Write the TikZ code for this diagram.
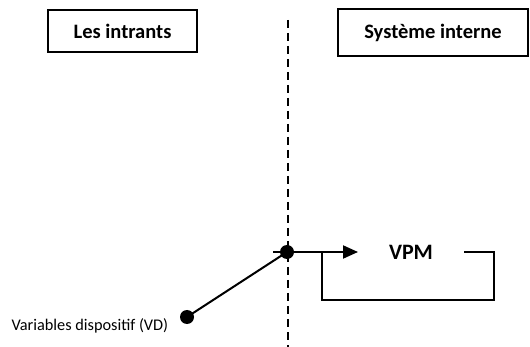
\documentclass[tikz,border=0pt]{standalone}
\usepackage{fontspec}
\setmainfont{Carlito}
\usetikzlibrary{arrows.meta}
\begin{document}
\begin{tikzpicture}[x=1pt,y=-1pt,
  titlebox/.style={draw,line width=1.3pt,font=\fontsize{20.5}{22}\selectfont\bfseries},
  conn/.style={line width=2pt},
  dotnode/.style={circle,fill=black,inner sep=0pt,minimum size=14pt},
  sep/.style={line width=1.3pt,dash pattern=on 8pt off 5pt}]
\useasboundingbox (0,0) rectangle (530,347);
\node[titlebox,minimum width=149pt,minimum height=42pt] (intr) at (122.5,31) {Les intrants};
\node[titlebox,minimum width=190pt,minimum height=47pt] (sys) at (433,32.5) {Système interne};
\coordinate (stop) at (288,20);
\coordinate (sbot) at (288,347);
\draw[sep] (stop) -- (sbot);
\node[dotnode] (d1) at (287,252) {};
\node[dotnode] (d2) at (187,317) {};
\node[anchor=west,font=\fontsize{16.3}{18}\selectfont] (vd) at (8,326) {Variables dispositif (VD)};
\node[font=\fontsize{22}{24}\selectfont\bfseries] (vpm) at (411,252) {VPM};
\coordinate (l0) at (273,252);
\coordinate (a1) at (358,252);
\coordinate (r0) at (464,252);
\coordinate (r1) at (494,252);
\coordinate (r2) at (494,300);
\coordinate (r3) at (322,300);
\coordinate (r4) at (322,252);
\draw[conn] (d2.center) -- (d1.center);
\draw[conn,-{Triangle[length=15pt,width=13pt]}] (l0) -- (a1);
\draw[line width=1.3pt] (r0) -- (r1) -- (r2) -- (r3) -- (r4);
\end{tikzpicture}
\end{document}
